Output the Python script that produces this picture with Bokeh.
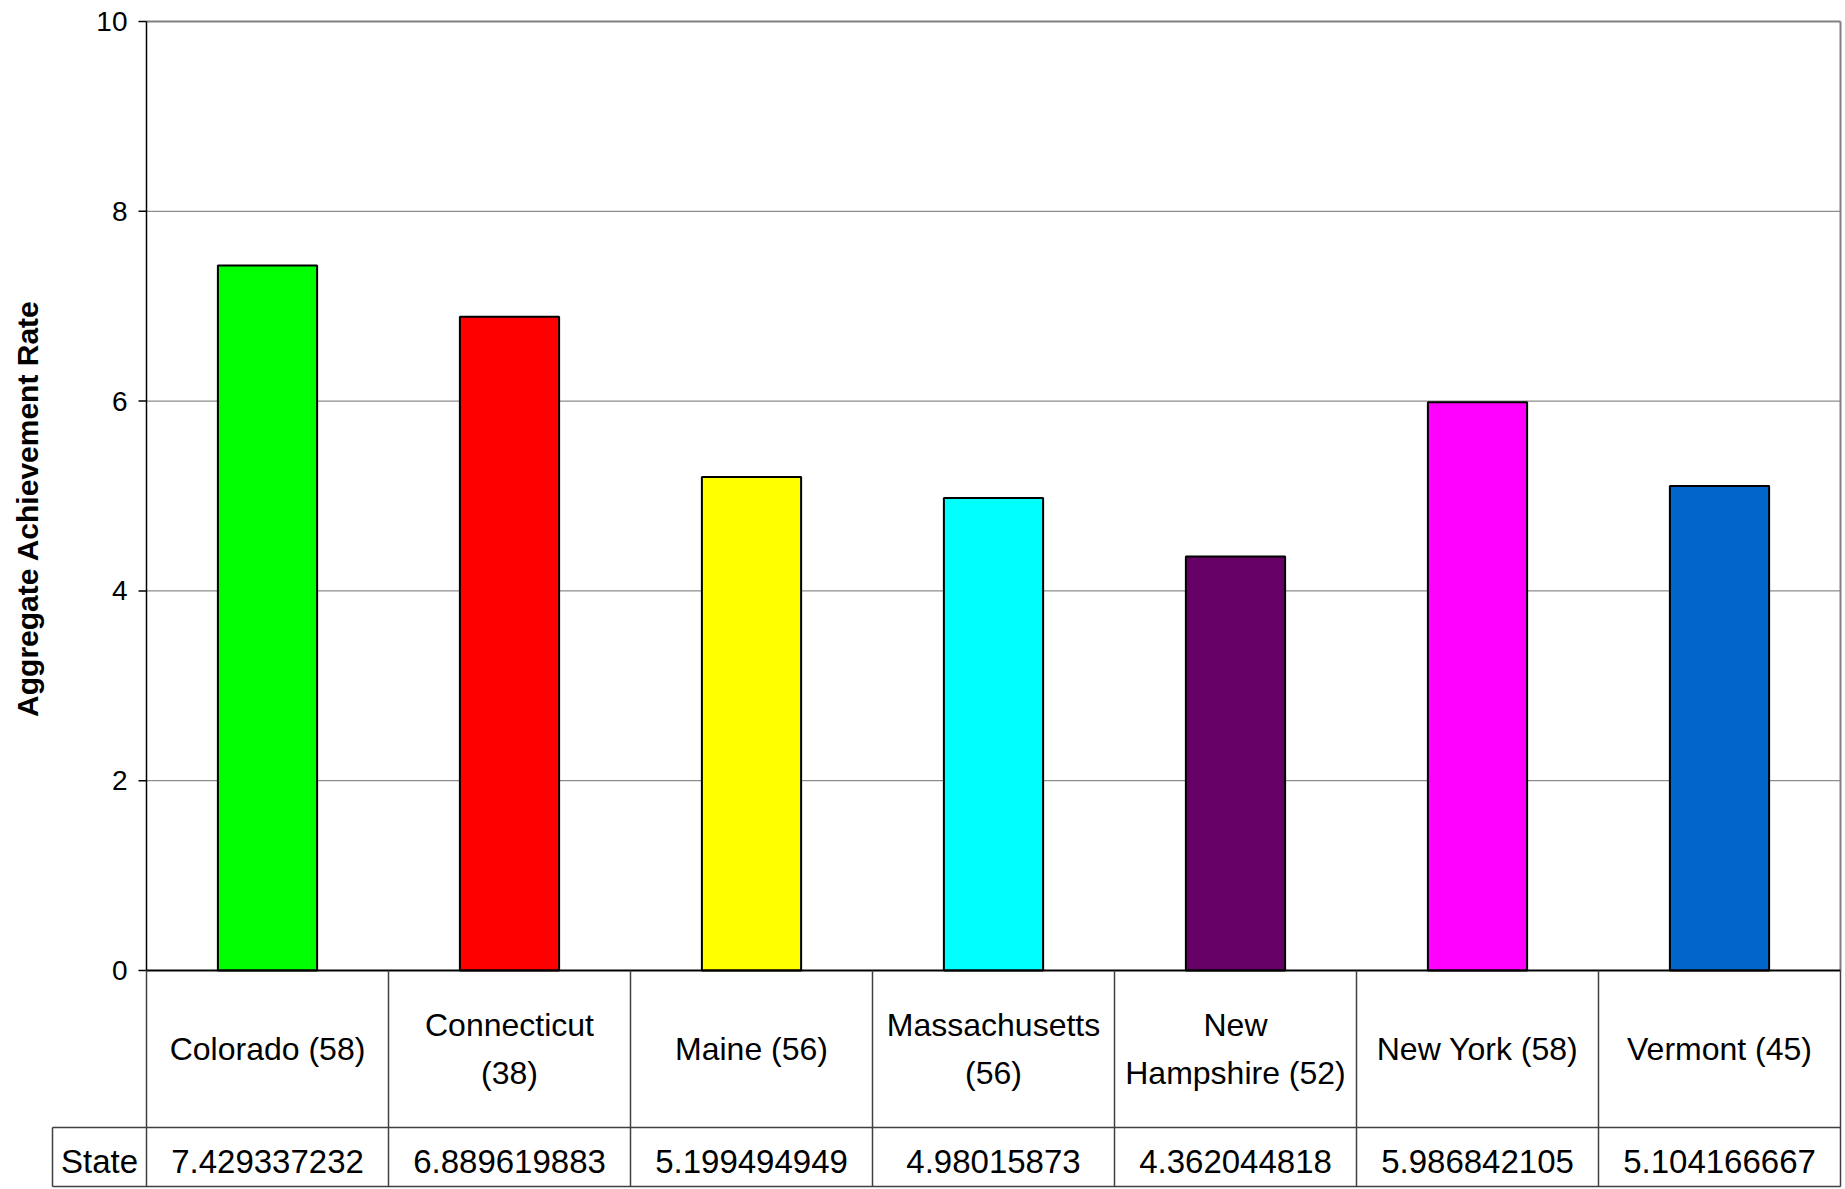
import math
from bokeh.plotting import figure
from bokeh.models import Range1d, ColumnDataSource
from bokeh.core.properties import value
from bokeh.embed import file_html
from bokeh.resources import INLINE

# ---------------- data ----------------
states = ["Colorado (58)", "Connecticut\n(38)", "Maine (56)", "Massachusetts\n(56)",
          "New\nHampshire (52)", "New York (58)", "Vermont (45)"]
rates = [7.429337232, 6.889619883, 5.199494949, 4.98015873, 4.362044818,
         5.986842105, 5.104166667]
bar_colors = ["#00FF00", "#FF0000", "#FFFF00", "#00FFFF", "#660066", "#FF00FF", "#0066CC"]
y_ticks = [0, 2, 4, 6, 8, 10]
y_label = "Aggregate Achievement Rate"
row_header = "State"

# ---------------- layout (pixels) ----------------
W, H = 1845, 1189
PX_L, PX_R = 146, 1840      # plot area left / right
PX_T, PX_0 = 21, 970        # y = max tick, y = 0
PX_CAT_B = 1127             # bottom of category row
PX_VAL_B = 1186             # bottom of value row
PX_VAL_TXT = 1161           # centre of value-row text
PX_HDR_L = 52               # left of "State" header cell
PX_TICKLBL_R = 127          # right edge of y tick labels
PX_TICK = 8                 # tick length
PX_YLABEL = 27              # centre of y label
PY_YLABEL = 508

n = len(states)
ymax = y_ticks[-1]
sx = (PX_R - PX_L) / n
sy = (PX_0 - PX_T) / ymax


def dx(px):
    return (px - PX_L) / sx


def dy(py):
    return (PX_0 - py) / sy


p = figure(width=W, height=H, output_backend="svg", toolbar_location=None,
           x_range=Range1d(dx(0), dx(W)), y_range=Range1d(dy(H), dy(0)),
           x_axis_type=None, y_axis_type=None, min_border=0)
p.outline_line_color = None
p.grid.visible = False
p.background_fill_color = "white"
p.border_fill_color = "white"

FONT = value("Liberation Sans")

# gridlines
mid_ticks = [t for t in y_ticks if 0 < t < ymax]
p.segment(x0=[0] * len(mid_ticks), x1=[n] * len(mid_ticks), y0=mid_ticks, y1=mid_ticks,
          line_color="#707070", line_width=1)
# top line & right border of plot area
p.segment(x0=[0, n], x1=[n, n], y0=[ymax, 0], y1=[ymax, ymax],
          line_color="#808080", line_width=2)

# bars
src = ColumnDataSource(dict(x=[i + 0.5 for i in range(n)], top=rates, color=bar_colors))
p.vbar(x="x", top="top", bottom=0, width=0.41, fill_color="color", source=src,
       line_color="black", line_width=2)

# y axis line, ticks and labels
p.segment(x0=[0], x1=[0], y0=[0], y1=[ymax], line_color="black", line_width=1.5)
p.segment(x0=[dx(PX_L - PX_TICK)] * len(y_ticks), x1=[0] * len(y_ticks),
          y0=y_ticks, y1=y_ticks, line_color="black", line_width=1.5)
p.text(x=[dx(PX_TICKLBL_R)] * len(y_ticks), y=y_ticks, text=[str(t) for t in y_ticks],
       text_font=FONT, text_font_size="28px", text_align="right",
       text_baseline="middle", text_color="black")
p.text(x=[dx(PX_YLABEL)], y=[dy(PY_YLABEL)], text=[y_label], angle=math.pi / 2,
       text_font=FONT, text_font_style="bold", text_font_size="30px",
       text_align="center", text_baseline="middle", text_color="black")

# data table
y_cat_b = dy(PX_CAT_B)
y_val_b = dy(PX_VAL_B)
x_hdr = dx(PX_HDR_L)
# horizontal lines
p.segment(x0=[0], x1=[n], y0=[0], y1=[0], line_color="black", line_width=2)
p.segment(x0=[x_hdr, x_hdr], x1=[n, n], y0=[y_cat_b, y_val_b], y1=[y_cat_b, y_val_b],
          line_color="#404040", line_width=1.5)
# vertical lines
vx = list(range(0, n + 1))
p.segment(x0=vx, x1=vx, y0=[y_val_b] * len(vx), y1=[0] * len(vx),
          line_color="#404040", line_width=1.5)
p.segment(x0=[x_hdr], x1=[x_hdr], y0=[y_val_b], y1=[y_cat_b],
          line_color="#404040", line_width=1.5)

# category labels
p.text(x=[i + 0.5 for i in range(n)], y=[y_cat_b / 2] * n, text=states,
       text_font=FONT, text_font_size="32px", text_align="center",
       text_baseline="middle", text_line_height=1.32, text_color="black")
# value row
y_val_txt = dy(PX_VAL_TXT)
p.text(x=[i + 0.5 for i in range(n)], y=[y_val_txt] * n, text=[str(v) for v in rates],
       text_font=FONT, text_font_size="33px", text_align="center",
       text_baseline="middle", text_color="black")
p.text(x=[x_hdr / 2], y=[y_val_txt], text=[row_header],
       text_font=FONT, text_font_size="33px", text_align="center",
       text_baseline="middle", text_color="black")

open("out.html", "w").write(file_html(p, INLINE))
